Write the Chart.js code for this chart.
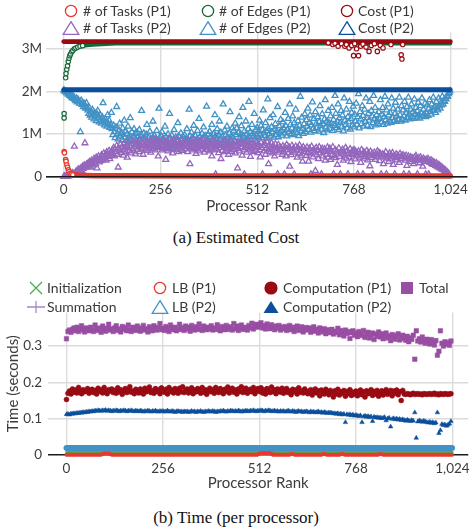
<!DOCTYPE html>
<html><head><meta charset="utf-8">
<script src="https://cdn.jsdelivr.net/npm/chart.js@4.4.1/dist/chart.umd.min.js"></script>
<style>
html,body{margin:0;padding:0;background:#fff;}
#root{position:relative;width:472px;height:531px;overflow:hidden;font-family:Lato,'Noto Sans',sans-serif;color:#3a3a3a;}
.box{position:absolute;left:0;width:472px;}
.lg{position:absolute;font-size:14px;line-height:16px;white-space:nowrap;transform:translateY(-50%);}
.sym{position:absolute;transform:translate(-50%,-50%);line-height:0;}
.cap{position:absolute;left:0;width:472px;text-align:center;font-family:'Liberation Serif','Times New Roman',serif;font-size:17px;line-height:20px;color:#111;}
</style></head><body>
<div id="root">
 <div class="box" style="top:0;height:215px"><canvas id="cA"></canvas></div>
 <div class="box" style="top:290px;height:210px"><canvas id="cB"></canvas></div>
 <div id="legA"></div><div id="legB"></div>
 <div class="cap" style="top:228px">(a) Estimated Cost</div>
 <div class="cap" style="top:508px">(b) Time (per processor)</div>
</div>
<script>
// ---------- categories / ticks ----------
const ranks2 = Array.from({length:512},(_,i)=>i*2);
const ranks4 = Array.from({length:256},(_,i)=>i*4);
const ranks64 = [0,64,128,192,256,320,384,448,512,576,640,704,768,832,896,960,1023];
const xTicks = [0,256,512,768,1024];
const yTicksA = [0,1,2,3];          // millions
const yTicksB = [0,0.1,0.2,0.3];    // seconds
const seriesA = ['# of Tasks (P1)','# of Edges (P1)','Cost (P1)','# of Tasks (P2)','# of Edges (P2)','Cost (P2)'];
const seriesB = ['Initialization','LB (P1)','Computation (P1)','Total','Summation','LB (P2)','Computation (P2)'];

// ---------- (a) Estimated cost (millions), every 2nd rank ----------
const edgesP2 = [
2.03,2.01,1.99,2.00,1.96,1.97,1.93,1.95,1.90,1.92,1.88,1.85,1.90,1.83,1.86,1.80,
1.78,1.84,1.75,1.81,1.77,1.72,1.05,1.79,1.69,1.74,1.64,1.71,1.67,1.60,1.73,1.62,
1.56,1.48,1.61,1.44,1.52,1.39,1.57,1.46,1.35,1.50,1.42,1.31,1.47,1.55,1.38,1.28,
1.44,1.33,1.25,1.40,1.73,1.30,1.21,1.36,1.27,1.18,1.45,1.24,1.32,1.15,1.22,1.50,
1.12,0.98,1.20,1.05,0.91,1.16,1.64,1.01,0.88,1.09,1.25,0.95,1.03,0.86,1.14,0.99,
1.32,0.92,1.07,0.84,1.00,1.18,0.90,0.97,1.38,0.87,1.05,0.81,0.94,1.12,0.89,1.01,
0.85,1.04,0.93,0.78,1.10,0.88,0.96,1.55,0.80,0.91,1.02,0.74,0.87,0.99,1.22,0.83,
0.76,0.94,1.06,0.86,0.72,0.90,1.30,0.81,0.97,0.70,0.89,1.08,0.84,0.77,1.60,0.92,
0.79,0.95,1.05,0.71,0.88,0.82,1.18,0.93,0.68,0.85,1.00,0.76,1.48,0.90,0.80,0.97,
0.66,0.87,1.10,0.78,0.92,0.73,0.84,1.26,0.95,0.69,0.81,1.02,0.88,0.62,0.94,0.83,
0.98,0.77,0.89,1.12,0.84,0.70,1.58,0.95,0.86,1.04,0.74,0.91,1.20,0.82,0.97,0.68,
0.88,1.08,0.79,1.36,0.93,0.85,0.72,1.01,0.90,1.16,0.80,0.96,0.75,1.65,0.87,0.99,
0.83,1.06,0.94,0.76,1.22,0.90,1.00,0.81,1.45,0.96,0.86,1.12,0.73,0.99,1.30,0.88,
1.04,0.79,0.93,1.70,0.85,1.09,0.97,0.77,1.18,0.91,0.82,1.02,1.52,0.87,0.95,1.14,
0.92,1.08,0.84,1.25,0.98,1.14,0.80,1.03,1.40,0.89,1.00,1.19,0.86,1.62,0.95,1.07,
0.83,1.30,0.99,0.90,1.12,1.76,0.94,1.05,0.87,1.22,1.01,0.93,1.48,0.85,1.10,0.97,
1.15,0.94,1.06,1.32,0.99,1.20,0.91,1.10,1.56,1.02,0.96,1.26,1.08,0.90,1.82,1.13,
1.00,1.38,0.95,1.17,1.05,1.45,0.92,1.11,1.24,0.98,1.07,1.64,0.93,1.19,1.03,1.34,
1.08,0.97,1.28,1.14,1.02,1.50,1.19,0.95,1.10,1.36,1.05,1.70,1.22,1.00,1.13,1.42,
0.98,1.26,1.09,1.58,1.16,1.03,1.31,0.96,1.20,1.88,1.07,1.39,1.12,1.01,1.24,1.47,
1.05,1.33,1.18,1.60,1.10,1.27,1.44,1.04,1.21,1.75,1.13,1.36,1.08,1.52,1.25,1.15,
1.40,1.06,1.29,1.66,1.19,1.11,1.47,1.23,1.03,1.35,1.80,1.16,1.30,1.09,1.55,1.26,
1.12,1.42,1.24,1.62,1.08,1.34,1.20,1.90,1.48,1.15,1.30,1.70,1.10,1.38,1.26,1.55,
1.18,1.44,1.07,1.84,1.32,1.22,1.58,1.14,1.40,1.28,1.76,1.11,1.36,1.50,1.21,1.65,
1.16,1.46,1.30,1.72,1.22,1.40,1.94,1.14,1.52,1.35,1.24,1.66,1.43,1.18,1.58,1.29,
1.84,1.38,1.20,1.48,1.32,1.76,1.17,1.55,1.42,1.26,1.90,1.36,1.62,1.21,1.45,1.33,
1.24,1.52,1.36,1.80,1.28,1.46,1.62,1.22,1.40,1.88,1.33,1.56,1.25,1.70,1.44,1.30,
1.50,1.27,1.84,1.38,1.60,1.31,1.48,1.74,1.29,1.42,1.58,1.34,1.86,1.45,1.30,1.66,
1.34,1.56,1.42,1.76,1.32,1.50,1.64,1.38,1.86,1.46,1.35,1.58,1.70,1.40,1.52,1.36,
1.82,1.48,1.62,1.39,1.54,1.74,1.44,1.37,1.66,1.50,1.84,1.42,1.58,1.46,1.72,1.40,
1.48,1.68,1.43,1.60,1.80,1.52,1.46,1.70,1.58,1.86,1.55,1.64,1.50,1.76,1.62,1.56,
1.84,1.66,1.60,1.72,1.68,1.88,1.70,1.78,1.76,1.84,1.82,1.90,1.88,1.94,1.97,2.01];
const tasksP2 = [
0.00,0.01,0.00,0.01,0.02,0.00,0.03,0.02,0.05,0.03,0.07,0.04,0.09,0.06,0.71,0.08,
0.12,0.10,0.15,0.11,0.18,0.13,0.16,0.21,0.14,0.24,0.19,0.27,0.79,0.22,0.29,0.25,
0.31,0.24,0.35,0.28,0.22,0.38,0.33,0.27,0.42,0.36,0.30,0.45,0.20,0.39,0.48,0.34,
0.43,0.37,0.51,0.46,0.40,0.55,0.44,0.49,0.38,0.58,0.52,0.47,0.61,0.42,0.56,0.50,
0.62,0.54,0.68,0.48,0.64,0.58,0.73,0.52,0.22,0.66,0.60,0.76,0.56,0.70,0.63,0.50,
0.79,0.67,0.59,0.74,0.45,0.69,0.82,0.61,0.72,0.55,0.77,0.65,0.84,0.60,0.71,0.53,
0.75,0.63,0.81,0.69,0.58,0.86,0.72,0.66,0.78,0.52,0.74,0.88,0.64,0.70,0.80,0.61,
0.76,0.67,0.84,0.57,0.73,0.79,0.65,0.90,0.71,0.62,0.77,0.85,0.68,0.48,0.74,0.82,
0.70,0.79,0.62,0.87,0.74,0.66,0.83,0.40,0.71,0.77,0.60,0.89,0.68,0.75,0.64,0.81,
0.55,0.73,0.86,0.69,0.78,0.63,0.91,0.72,0.58,0.80,0.67,0.76,0.84,0.61,0.74,0.70,
0.77,0.65,0.83,0.71,0.58,0.86,0.74,0.30,0.68,0.80,0.62,0.76,0.88,0.66,0.72,0.54,
0.81,0.69,0.75,0.60,0.84,0.73,0.64,0.79,0.70,0.87,0.57,0.74,0.67,0.82,0.63,0.78,
0.71,0.60,0.80,0.66,0.48,0.75,0.85,0.62,0.70,0.06,0.78,0.64,0.83,0.56,0.73,0.68,
0.42,0.76,0.61,0.81,0.69,0.58,0.86,0.72,0.65,0.79,0.52,0.74,0.67,0.82,0.59,0.70,
0.77,0.63,0.69,0.55,0.81,0.72,0.20,0.66,0.78,0.60,0.84,0.70,0.50,0.75,0.64,0.06,
0.79,0.68,0.57,0.73,0.83,0.62,0.71,0.47,0.76,0.65,0.80,0.58,0.69,0.74,0.61,0.82,
0.70,0.56,0.76,0.63,0.46,0.80,0.68,0.06,0.73,0.60,0.78,0.52,0.66,0.82,0.62,0.30,
0.74,0.58,0.69,0.79,0.55,0.72,0.64,0.48,0.77,0.61,0.67,0.06,0.75,0.57,0.70,0.63,
0.66,0.52,0.72,0.59,0.06,0.69,0.48,0.75,0.62,0.56,0.70,0.24,0.64,0.51,0.73,0.60,
0.67,0.06,0.57,0.71,0.63,0.45,0.68,0.54,0.74,0.61,0.50,0.66,0.36,0.70,0.58,0.64,
0.62,0.49,0.69,0.56,0.36,0.66,0.53,0.06,0.71,0.60,0.46,0.64,0.57,0.14,0.68,0.51,
0.63,0.42,0.70,0.55,0.61,0.06,0.66,0.48,0.58,0.65,0.38,0.60,0.52,0.69,0.45,0.62,
0.66,0.40,0.58,0.52,0.70,0.06,0.49,0.63,0.44,0.60,0.28,0.55,0.67,0.47,0.06,0.59,
0.53,0.64,0.38,0.57,0.50,0.68,0.43,0.61,0.06,0.54,0.46,0.65,0.35,0.58,0.51,0.62,
0.54,0.62,0.41,0.57,0.49,0.06,0.60,0.45,0.55,0.33,0.63,0.51,0.06,0.58,0.43,0.53,
0.47,0.61,0.39,0.56,0.50,0.25,0.59,0.44,0.54,0.06,0.48,0.57,0.40,0.52,0.46,0.60,
0.50,0.57,0.37,0.54,0.06,0.47,0.53,0.30,0.51,0.45,0.58,0.06,0.43,0.49,0.35,0.55,
0.41,0.52,0.46,0.56,0.28,0.48,0.06,0.44,0.53,0.39,0.50,0.47,0.33,0.54,0.42,0.49,
0.46,0.51,0.06,0.47,0.38,0.50,0.26,0.43,0.48,0.06,0.41,0.46,0.35,0.44,0.40,0.30,
0.45,0.37,0.49,0.42,0.06,0.39,0.44,0.32,0.46,0.38,0.41,0.24,0.43,0.36,0.40,0.06,
0.40,0.35,0.42,0.06,0.37,0.33,0.39,0.30,0.36,0.28,0.34,0.31,0.26,0.32,0.24,0.29,
0.22,0.27,0.20,0.24,0.18,0.21,0.16,0.18,0.13,0.15,0.10,0.12,0.07,0.08,0.04,0.02];
const tasksP1Head = [[1,0.59],[2,0.56],[5,0.40],[6,0.36],[8,0.28],[10,0.22],[12,0.16],[14,0.12],[17,0.08],[20,0.06],[24,0.045]];
const tasksP1Tail = [[24,0.045],[40,0.035],[80,0.025],[160,0.02],[400,0.015],[700,0.015],[1023,0.015]];
const edgesP1Head = [[1,1.38],[1,1.48],[5,2.32],[6,2.42],[8,2.52],[10,2.60],[12,2.70],[14,2.78],[16,2.84],[18,2.88],[21,2.93],[24,2.96],[28,3.00],[32,3.02],[37,3.04],[43,3.06],[50,3.075]];
const edgesP1Tail = [[50,3.075],[77,3.10],[138,3.125],[300,3.13],[600,3.13],[1023,3.13]];
const costP1 = [3.17,3.17,3.17,3.17,3.17,3.17,3.17,3.17,3.17,3.17,3.17,3.17,3.17,3.17,3.17,3.17,3.17];
const costP1Out = [[700,3.14],[712,3.10],[718,3.13],[726,3.06],[735,3.12],[744,3.06],[748,3.10],[755,3.02],[762,3.08],[767,2.84],[770,3.12],[775,3.00],[780,2.84],[786,3.06],[792,3.11],[800,3.04],[808,2.94],[814,3.08],[822,3.12],[830,2.94],[838,3.08],[845,3.02],[866,3.10],[893,2.86],[895,2.76],[897,3.10]];
const costP2 = [2.04,2.04,2.04,2.04,2.04,2.04,2.04,2.04,2.04,2.04,2.04,2.04,2.04,2.04,2.04,2.04,2.04];

// ---------- (b) Time per processor (seconds), every 4th rank ----------
const totalT = [
0.320,0.340,0.344,0.338,0.346,0.350,0.342,0.352,0.340,0.348,0.356,0.344,0.339,0.350,0.346,0.342,
0.352,0.345,0.340,0.358,0.347,0.343,0.350,0.338,0.355,0.346,0.341,0.349,0.360,0.344,0.348,0.340,
0.350,0.356,0.343,0.347,0.339,0.354,0.346,0.351,0.342,0.358,0.345,0.340,0.352,0.348,0.343,0.355,
0.346,0.341,0.350,0.357,0.344,0.348,0.339,0.353,0.347,0.342,0.356,0.349,0.344,0.351,0.362,0.345,
0.349,0.343,0.354,0.347,0.340,0.358,0.350,0.345,0.352,0.342,0.348,0.360,0.346,0.351,0.343,0.355,
0.347,0.352,0.341,0.357,0.349,0.344,0.353,0.346,0.361,0.348,0.343,0.355,0.350,0.345,0.352,0.347,
0.356,0.344,0.350,0.346,0.359,0.348,0.342,0.354,0.349,0.345,0.357,0.351,0.346,0.353,0.344,0.362,
0.348,0.355,0.343,0.351,0.358,0.346,0.352,0.349,0.344,0.357,0.350,0.363,0.347,0.354,0.360,0.352,
0.358,0.364,0.350,0.356,0.347,0.361,0.353,0.348,0.359,0.351,0.345,0.355,0.349,0.357,0.344,0.352,
0.348,0.354,0.343,0.350,0.357,0.345,0.352,0.340,0.349,0.355,0.343,0.347,0.353,0.339,0.346,0.351,
0.344,0.350,0.338,0.347,0.353,0.341,0.346,0.336,0.350,0.343,0.339,0.348,0.334,0.345,0.340,0.337,
0.346,0.333,0.341,0.337,0.349,0.331,0.343,0.338,0.328,0.344,0.335,0.340,0.321,0.337,0.342,0.330,
0.336,0.326,0.340,0.332,0.329,0.343,0.324,0.334,0.338,0.322,0.331,0.336,0.318,0.333,0.327,0.339,
0.325,0.334,0.320,0.330,0.336,0.322,0.328,0.315,0.332,0.326,0.319,0.329,0.334,0.317,0.324,0.330,
0.321,0.316,0.327,0.312,0.323,0.318,0.330,0.264,0.342,0.314,0.320,0.311,0.325,0.316,0.308,0.319,
0.313,0.306,0.318,0.310,0.303,0.315,0.275,0.286,0.342,0.308,0.300,0.312,0.305,0.310,0.302,0.314];
const compP1 = [
0.153,0.170,0.176,0.168,0.182,0.173,0.179,0.171,0.186,0.175,0.169,0.180,0.174,0.177,0.183,0.170,
0.176,0.181,0.172,0.178,0.168,0.184,0.175,0.179,0.171,0.186,0.174,0.169,0.180,0.176,0.182,0.172,
0.178,0.170,0.185,0.174,0.180,0.167,0.177,0.183,0.172,0.179,0.188,0.173,0.176,0.169,0.181,0.175,
0.171,0.182,0.176,0.168,0.184,0.174,0.179,0.187,0.172,0.177,0.170,0.183,0.175,0.180,0.169,0.185,
0.176,0.173,0.181,0.168,0.186,0.175,0.179,0.171,0.183,0.177,0.170,0.184,0.174,0.188,0.172,0.178,
0.182,0.171,0.176,0.185,0.169,0.179,0.174,0.183,0.177,0.170,0.186,0.173,0.180,0.167,0.178,0.184,
0.174,0.180,0.170,0.186,0.176,0.172,0.183,0.178,0.169,0.181,0.175,0.187,0.171,0.179,0.184,0.173,
0.179,0.168,0.182,0.175,0.188,0.172,0.178,0.184,0.170,0.176,0.181,0.174,0.186,0.169,0.177,0.183,
0.175,0.185,0.171,0.179,0.168,0.183,0.176,0.172,0.187,0.174,0.180,0.169,0.182,0.177,0.173,0.184,
0.170,0.178,0.183,0.172,0.176,0.166,0.181,0.174,0.179,0.168,0.185,0.173,0.177,0.171,0.182,0.175,
0.169,0.176,0.180,0.165,0.174,0.182,0.171,0.177,0.163,0.179,0.172,0.168,0.181,0.175,0.166,0.178,
0.172,0.160,0.177,0.168,0.181,0.165,0.174,0.170,0.178,0.162,0.175,0.169,0.180,0.164,0.173,0.167,
0.176,0.163,0.171,0.179,0.166,0.174,0.160,0.177,0.169,0.172,0.180,0.164,0.175,0.168,0.178,0.162,
0.171,0.177,0.165,0.174,0.180,0.167,0.173,0.178,0.163,0.176,0.170,0.179,0.166,0.174,0.150,0.178,
0.168,0.167,0.169,0.168,0.166,0.168,0.170,0.167,0.168,0.169,0.167,0.168,0.166,0.169,0.168,0.167,
0.168,0.169,0.167,0.168,0.170,0.167,0.168,0.166,0.169,0.168,0.167,0.169,0.168,0.167,0.168,0.169];
const compP2 = [
0.112,0.113,0.111,0.114,0.113,0.115,0.114,0.116,0.115,0.117,0.116,0.118,0.117,0.119,0.118,0.120,
0.119,0.121,0.120,0.122,0.121,0.123,0.122,0.121,0.123,0.122,0.124,0.121,0.123,0.122,0.120,0.122,
0.121,0.123,0.122,0.120,0.122,0.121,0.123,0.122,0.120,0.122,0.121,0.123,0.121,0.120,0.122,0.121,
0.120,0.122,0.121,0.119,0.121,0.120,0.122,0.121,0.119,0.121,0.120,0.122,0.120,0.119,0.121,0.120,
0.121,0.119,0.120,0.122,0.120,0.119,0.121,0.120,0.118,0.120,0.121,0.119,0.120,0.118,0.120,0.119,
0.120,0.118,0.119,0.121,0.119,0.120,0.118,0.120,0.119,0.121,0.119,0.118,0.120,0.119,0.121,0.120,
0.119,0.121,0.120,0.118,0.120,0.119,0.121,0.120,0.122,0.120,0.119,0.121,0.120,0.122,0.121,0.120,
0.121,0.120,0.122,0.121,0.119,0.121,0.120,0.122,0.121,0.120,0.122,0.121,0.123,0.121,0.120,0.122,
0.121,0.123,0.122,0.120,0.122,0.121,0.123,0.122,0.120,0.121,0.122,0.120,0.121,0.119,0.121,0.120,
0.121,0.119,0.120,0.122,0.120,0.119,0.121,0.120,0.118,0.120,0.121,0.119,0.120,0.118,0.119,0.120,
0.119,0.117,0.120,0.118,0.119,0.117,0.118,0.120,0.117,0.118,0.116,0.118,0.117,0.115,0.117,0.116,
0.116,0.114,0.115,0.113,0.115,0.112,0.114,0.111,0.113,0.090,0.112,0.110,0.112,0.109,0.111,0.108,
0.110,0.108,0.107,0.109,0.090,0.106,0.108,0.105,0.107,0.104,0.106,0.093,0.105,0.103,0.104,0.102,
0.103,0.101,0.102,0.104,0.095,0.100,0.102,0.078,0.099,0.101,0.098,0.100,0.097,0.099,0.096,0.098,
0.096,0.094,0.097,0.095,0.093,0.096,0.094,0.117,0.047,0.092,0.095,0.093,0.091,0.094,0.092,0.090,
0.089,0.091,0.088,0.090,0.087,0.089,0.117,0.060,0.068,0.085,0.082,0.084,0.080,0.083,0.086,0.093];
const lbP2 = [0.019,0.019,0.019,0.019,0.019,0.019,0.019,0.019,0.019,0.019,0.019,0.019,0.019,0.019,0.019,0.019,0.019];
const initT = [0.0075,0.0075,0.0075,0.0075,0.0075,0.0075,0.0075,0.0075,0.0075,0.0075,0.0075,0.0075,0.0075,0.0075,0.0075,0.0075,0.0075];
const sumT = [0.0005,0.0005,0.0005,0.0005,0.0005,0.0005,0.0005,0.0005,0.0005,0.0005,0.0005,0.0005,0.0005,0.0005,0.0005,0.0005,0.0005];
const lbP1 = [[0,0.001],[92,0.001],[100,0.004],[112,0.004],[120,0.001],[506,0.001],[514,0.005],[540,0.005],[548,0.001],[592,0.001],[598,0.003],[605,0.001],[677,0.001],[683,0.003],[690,0.001],[725,0.001],[731,0.003],[738,0.001],[827,0.001],[833,0.003],[840,0.001],[1023,0.001]];

// ---------- colours ----------
const C = {red:'#e8372c', green:'#17693a', dred:'#990a12', purple:'#9467bd', lblue:'#4292c6', dblue:'#0b4f9c',
           lgreen:'#4daf4a', lpurple:'#a08bc8', tpurple:'#984ea3'};
const TXT = '#3c3c3c', GRID = '#dcdcdc';
const FONT = 'Lato, "Noto Sans", sans-serif';

const xy = (xs, ys) => ys.map((v,i)=>({x:xs[i], y:v}));
const pr = a => a.map(p=>({x:p[0], y:p[1]}));

function marks(label, data, color, style, r, fill, order, bw){
  return {label, data, order, showLine:false, pointStyle:style, pointRadius:r, pointHoverRadius:r,
    pointBorderColor:color, pointBackgroundColor: fill, pointBorderWidth: bw,
    borderColor:color, backgroundColor:color, clip:8};
}
function band(label, data, color, w, order){
  return {label, data, order, showLine:true, borderColor:color, borderWidth:w, pointRadius:0, pointHoverRadius:0,
    borderCapStyle:'round', borderJoinStyle:'round', tension:0, fill:false, clip:8};
}

function xScale(min, max, h, tickPad, titlePadBottom){
  return {type:'linear', min, max,
    afterBuildTicks: s => { s.ticks = xTicks.map(v=>({value:v})); },
    afterFit: s => { s.height = h; s.paddingLeft = 0; s.paddingRight = 0; },
    ticks:{callback: v => Number(v).toLocaleString('en-US'), color:TXT, font:{family:FONT, size:13.5}, padding:tickPad, maxRotation:0, autoSkip:false},
    grid:{color:GRID, lineWidth:1.4, drawTicks:false},
    border:{display:false},
    title:{display:true, text:'Processor Rank', color:TXT, font:{family:FONT, size:15}, padding:{top:0, bottom:titlePadBottom}}
  };
}
function yScale(min, max, ticks, fmt, w, pad, title){
  const o = {type:'linear', min, max,
    afterBuildTicks: s => { s.ticks = ticks.map(v=>({value:v})); },
    afterFit: s => { s.width = w; s.paddingTop = 0; s.paddingBottom = 0; },
    ticks:{callback: fmt, color:TXT, font:{family:FONT, size:13.5}, padding:pad},
    grid:{color: c => (c.tick && c.tick.value === 0) ? '#1a1a1a' : GRID, lineWidth:1.4, drawTicks:false},
    border:{display:false}
  };
  if (title) o.title = {display:true, text:title, color:TXT, font:{family:FONT, size:15}, padding:{top:4, bottom:0}};
  return o;
}
const zeroOnTop = {id:'zeroOnTop', afterDatasetsDraw(chart){
  const {ctx, chartArea:a, scales:{y}} = chart; const py = y.getPixelForValue(0);
  ctx.save(); ctx.strokeStyle='#1a1a1a'; ctx.lineWidth=1.3; ctx.beginPath(); ctx.moveTo(a.left, py); ctx.lineTo(a.right, py); ctx.stroke(); ctx.restore();
}};

const common = {responsive:true, maintainAspectRatio:false, animation:false, devicePixelRatio:1,
  plugins:{legend:{display:false}, tooltip:{enabled:false}}, events:[]};
const NONE = 'rgba(255,255,255,0)';

// ---------- chart (a) ----------
new Chart(document.getElementById('cA'), {
  type:'scatter',
  data:{datasets:[
    band(seriesA[5], xy(ranks64, costP2), C.dblue, 4.8, 1),
    marks(seriesA[2], pr(costP1Out), C.dred, 'circle', 2.2, '#fff', 2, 1.2),
    band(seriesA[2], xy(ranks64, costP1), C.dred, 4.8, 3),
    marks(seriesA[1], pr(edgesP1Head), C.green, 'circle', 2.2, '#fff', 4, 1.2),
    band(seriesA[1], pr(edgesP1Tail), C.green, 4.2, 5),
    marks(seriesA[0], pr(tasksP1Head), C.red, 'circle', 2.2, '#fff', 6, 1.2),
    band(seriesA[0], pr(tasksP1Tail), C.red, 5.5, 7),
    marks(seriesA[3], xy(ranks2, tasksP2), C.purple, 'triangle', 3.4, NONE, 8, 1.3),
    marks(seriesA[4], xy(ranks2, edgesP2), C.lblue, 'triangle', 3.4, NONE, 9, 1.3)
  ]},
  options:Object.assign({}, common, {
    layout:{padding:{top:32.2, left:0, right:0, bottom:0}},
    scales:{
      x: xScale(-47, 1068, 38.3, 5.2, 0),
      y: yScale(0, 3.39, yTicksA, v => v === 0 ? '0' : v + 'M', 46, 4)
    }
  }),
  plugins:[zeroOnTop]
});

// ---------- chart (b) ----------
new Chart(document.getElementById('cB'), {
  type:'scatter',
  data:{datasets:[
    marks(seriesB[3], xy(ranks4, totalT), C.tpurple, 'rect', 3.2, C.tpurple, 1, 0.5),
    marks(seriesB[2], xy(ranks4, compP1), C.dred, 'circle', 2.5, C.dred, 2, 0.5),
    marks(seriesB[6], xy(ranks4, compP2), C.dblue, 'triangle', 2.6, C.dblue, 3, 0.5),
    band(seriesB[5], xy(ranks64, lbP2), C.lblue, 6, 4),
    band(seriesB[1], pr(lbP1), C.red, 4, 5),
    band(seriesB[0], xy(ranks64, initT), C.lgreen, 2.5, 6),
    band(seriesB[4], xy(ranks64, sumT), C.lpurple, 1.5, 7)
  ]},
  options:Object.assign({}, common, {
    layout:{padding:{top:22.5, left:0, right:0, bottom:0}},
    scales:{
      x: xScale(-49, 1066, 45, 5.9, 8),
      y: yScale(0, 0.3925, yTicksB, v => v === 0 ? '0' : String(v), 48, 6, 'Time (seconds)')
    }
  })
});

// ---------- HTML legends ----------
function svgSym(kind, color){
  const s = {
    ocircle:`<svg width="14" height="14"><circle cx="7" cy="7" r="5.6" fill="#fff" stroke="${color}" stroke-width="1.3"/></svg>`,
    otri:`<svg width="18" height="15"><polygon points="9,1.2 16.8,13.8 1.2,13.8" fill="#fff" stroke="${color}" stroke-width="1.3"/></svg>`,
    fcircle:`<svg width="15" height="15"><circle cx="7.5" cy="7.5" r="6.6" fill="${color}"/></svg>`,
    ftri:`<svg width="16" height="13"><polygon points="8,0.5 15.5,12.5 0.5,12.5" fill="${color}"/></svg>`,
    fsquare:`<svg width="13" height="13"><rect x="0.5" y="0.5" width="12" height="12" fill="${color}"/></svg>`,
    cross:`<svg width="15" height="15"><path d="M1.5,1.5 L13.5,13.5 M13.5,1.5 L1.5,13.5" stroke="${color}" stroke-width="1.3"/></svg>`,
    plus:`<svg width="20" height="15"><path d="M1,7.5 L19,7.5 M10,1.5 L10,13.5" stroke="${color}" stroke-width="1.3"/></svg>`
  };
  return s[kind];
}
function addLegend(id, items){
  const el = document.getElementById(id);
  items.forEach(it => {
    const sy = document.createElement('div'); sy.className='sym';
    sy.style.left = it.cx + 'px'; sy.style.top = it.y + 'px'; sy.innerHTML = svgSym(it.kind, it.color);
    const tx = document.createElement('div'); tx.className='lg';
    tx.style.left = it.tx + 'px'; tx.style.top = it.y + 'px'; tx.textContent = it.label;
    el.appendChild(sy); el.appendChild(tx);
  });
}
addLegend('legA', [
  {label:seriesA[0], kind:'ocircle', color:C.red,    cx:70.5,  tx:83,  y:10.7},
  {label:seriesA[1], kind:'ocircle', color:C.green,  cx:207.5, tx:219, y:10.7},
  {label:seriesA[2], kind:'ocircle', color:C.dred,   cx:347,   tx:358, y:10.7},
  {label:seriesA[3], kind:'otri',    color:C.purple, cx:70.5,  tx:83,  y:28},
  {label:seriesA[4], kind:'otri',    color:C.lblue,  cx:207.5, tx:219, y:28},
  {label:seriesA[5], kind:'otri',    color:C.dblue,  cx:347,   tx:358, y:28}
]);
addLegend('legB', [
  {label:seriesB[0], kind:'cross',   color:C.lgreen,  cx:35.5, tx:47,  y:288},
  {label:seriesB[1], kind:'ocircle', color:C.red,     cx:160,  tx:172, y:288},
  {label:seriesB[2], kind:'fcircle', color:C.dred,    cx:271,  tx:283, y:288},
  {label:seriesB[3], kind:'fsquare', color:C.tpurple, cx:407,  tx:419, y:288},
  {label:seriesB[4], kind:'plus',    color:C.lpurple, cx:36,   tx:47,  y:307},
  {label:seriesB[5], kind:'otri',    color:C.lblue,   cx:160,  tx:172, y:307},
  {label:seriesB[6], kind:'ftri',    color:C.dblue,   cx:271,  tx:283, y:307}
]);
</script>
</body></html>
